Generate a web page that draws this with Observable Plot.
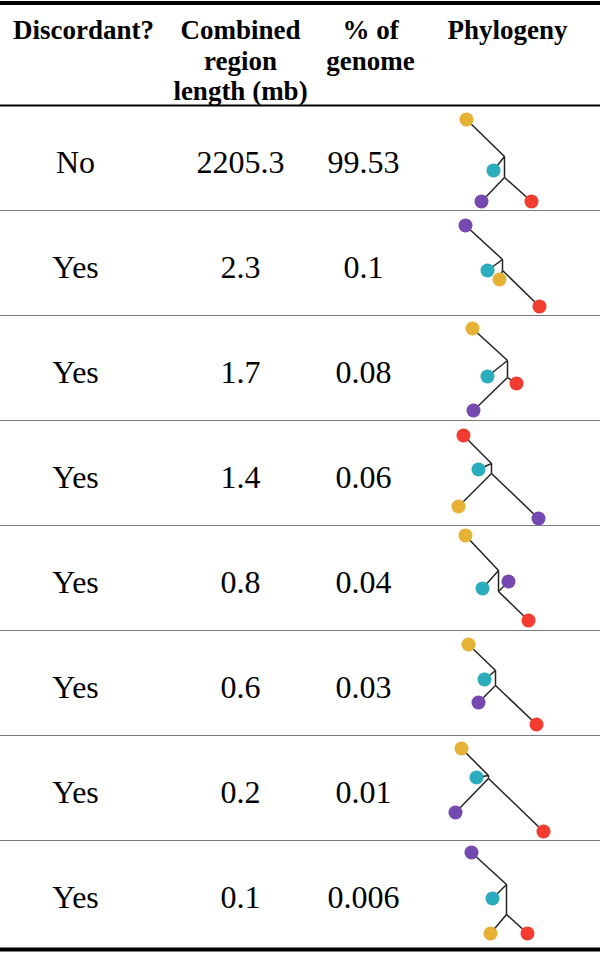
<!DOCTYPE html>
<html>
<head>
<meta charset="utf-8">
<script src="https://cdn.jsdelivr.net/npm/d3@7"></script>
<script src="https://cdn.jsdelivr.net/npm/@observablehq/plot@0.6"></script>
<style>
  html, body { margin: 0; padding: 0; background: #fff; }
  #chart svg { display: block; }
</style>
</head>
<body>
<div id="chart"></div>
<script>
// ---- Data ----
const headers = ["Discordant?", "Combined\nregion\nlength (mb)", "% of\ngenome", "Phylogeny"];
const discordant = ["No", "Yes", "Yes", "Yes", "Yes", "Yes", "Yes", "Yes"];
const lengthMb = ["2205.3", "2.3", "1.7", "1.4", "0.8", "0.6", "0.2", "0.1"];
const pctGenome = ["99.53", "0.1", "0.08", "0.06", "0.04", "0.03", "0.01", "0.006"];
const taxa = ["taxon Y", "taxon T", "taxon P", "taxon R"];
const taxonColors = ["#E6B236", "#2BADBE", "#7649B1", "#F43B2F"];

// Tree shapes (tree units within a phylogeny cell).
// Each tree: internal nodes A (upper) and B (lower); leaves with parent node.
const trees = [
  {A: [64, 51], B: [64, 72], leaves: [["taxon Y", "A", 26, 14], ["taxon T", "A", 53, 65], ["taxon P", "B", 41, 96], ["taxon R", "B", 91, 96]]},
  {A: [62, 49], B: [62, 60], leaves: [["taxon P", "A", 25, 15], ["taxon T", "A", 47, 60], ["taxon Y", "B", 59, 69], ["taxon R", "B", 99, 96]]},
  {A: [67, 45], B: [67, 62], leaves: [["taxon Y", "A", 32, 13], ["taxon T", "A", 47, 61], ["taxon R", "B", 76, 68], ["taxon P", "B", 33, 95]]},
  {A: [51, 43], B: [51, 53], leaves: [["taxon R", "A", 23, 15], ["taxon T", "A", 38, 49], ["taxon Y", "B", 18, 86], ["taxon P", "B", 98, 98]]},
  {A: [58, 45], B: [58, 66], leaves: [["taxon Y", "A", 25, 10], ["taxon T", "A", 42, 63], ["taxon P", "B", 68, 56], ["taxon R", "B", 88, 95]]},
  {A: [55, 40], B: [55, 55], leaves: [["taxon Y", "A", 28, 14], ["taxon T", "A", 44, 49], ["taxon P", "B", 38, 72], ["taxon R", "B", 96, 94]]},
  {A: [48, 40], B: [48, 43], leaves: [["taxon Y", "A", 21, 13], ["taxon T", "A", 36, 42], ["taxon P", "B", 15, 77], ["taxon R", "B", 103, 96]]},
  {A: [66, 44], B: [66, 74], leaves: [["taxon P", "A", 31, 12], ["taxon T", "A", 52, 58], ["taxon Y", "B", 50, 93], ["taxon R", "B", 87, 93]]}
];

// ---- Layout ----
const W = 600, H = 954;
const headerBottom = 105, rowH = 105, nRows = discordant.length;
const tableBottom = 949;
const colX = [75, 240, 363];
const headX = [83, 240, 370, 507];
const treeX0 = 440;
const rowTop = i => headerBottom + i * rowH;
const serif = "'Liberation Serif', 'Times New Roman', Times, serif";

const rows = discordant.map((d, i) => ({i, d, len: lengthMb[i], pct: pctGenome[i], yc: rowTop(i) + 57}));
const seps = d3.range(1, nRows).map(i => ({y: rowTop(i)}));

const edges = [], leaves = [];
trees.forEach((t, i) => {
  const ox = treeX0, oy = rowTop(i);
  const P = {A: t.A, B: t.B};
  edges.push({x1: ox + t.A[0], y1: oy + t.A[1], x2: ox + t.B[0], y2: oy + t.B[1]});
  t.leaves.forEach(([taxon, parent, lx, ly]) => {
    edges.push({x1: ox + P[parent][0], y1: oy + P[parent][1], x2: ox + lx, y2: oy + ly});
    leaves.push({taxon, x: ox + lx, y: oy + ly});
  });
});

const headRows = headers.map((h, k) => ({h, x: headX[k]}));

const plot = Plot.plot({
  width: W,
  height: H,
  margin: 0,
  x: {domain: [0, W], range: [0, W], axis: null},
  y: {domain: [0, H], range: [0, H], axis: null},
  color: {type: "ordinal", domain: taxa, range: taxonColors},
  style: {fontFamily: serif, background: "#fff"},
  marks: [
    // row separators
    Plot.ruleY(seps, {y: "y", x1: 0, x2: W, stroke: "#7a7a7a", strokeWidth: 1.2}),
    // top / header / bottom rules
    Plot.ruleY([2.5], {x1: 0, x2: W, stroke: "#000", strokeWidth: 4}),
    Plot.ruleY([headerBottom], {x1: 0, x2: W, stroke: "#000", strokeWidth: 2}),
    Plot.ruleY([tableBottom], {x1: 0, x2: W, stroke: "#000", strokeWidth: 4}),
    // header text
    Plot.text(headRows, {x: "x", y: 17, text: "h", lineAnchor: "top", lineHeight: 1.13,
      fontSize: 27, fontWeight: "bold", fill: "#000", textAnchor: "middle"}),
    // body text
    Plot.text(rows, {x: colX[0], y: "yc", text: "d", fontSize: 32, fill: "#000"}),
    Plot.text(rows, {x: colX[1], y: "yc", text: "len", fontSize: 32, fill: "#000"}),
    Plot.text(rows, {x: colX[2], y: "yc", text: "pct", fontSize: 32, fill: "#000"}),
    // phylogenies
    Plot.link(edges, {x1: "x1", y1: "y1", x2: "x2", y2: "y2", stroke: "#222", strokeWidth: 1.5}),
    Plot.dot(leaves, {x: "x", y: "y", r: 7, fill: "taxon", stroke: "none"})
  ]
});
document.getElementById("chart").appendChild(plot);
</script>
</body>
</html>
